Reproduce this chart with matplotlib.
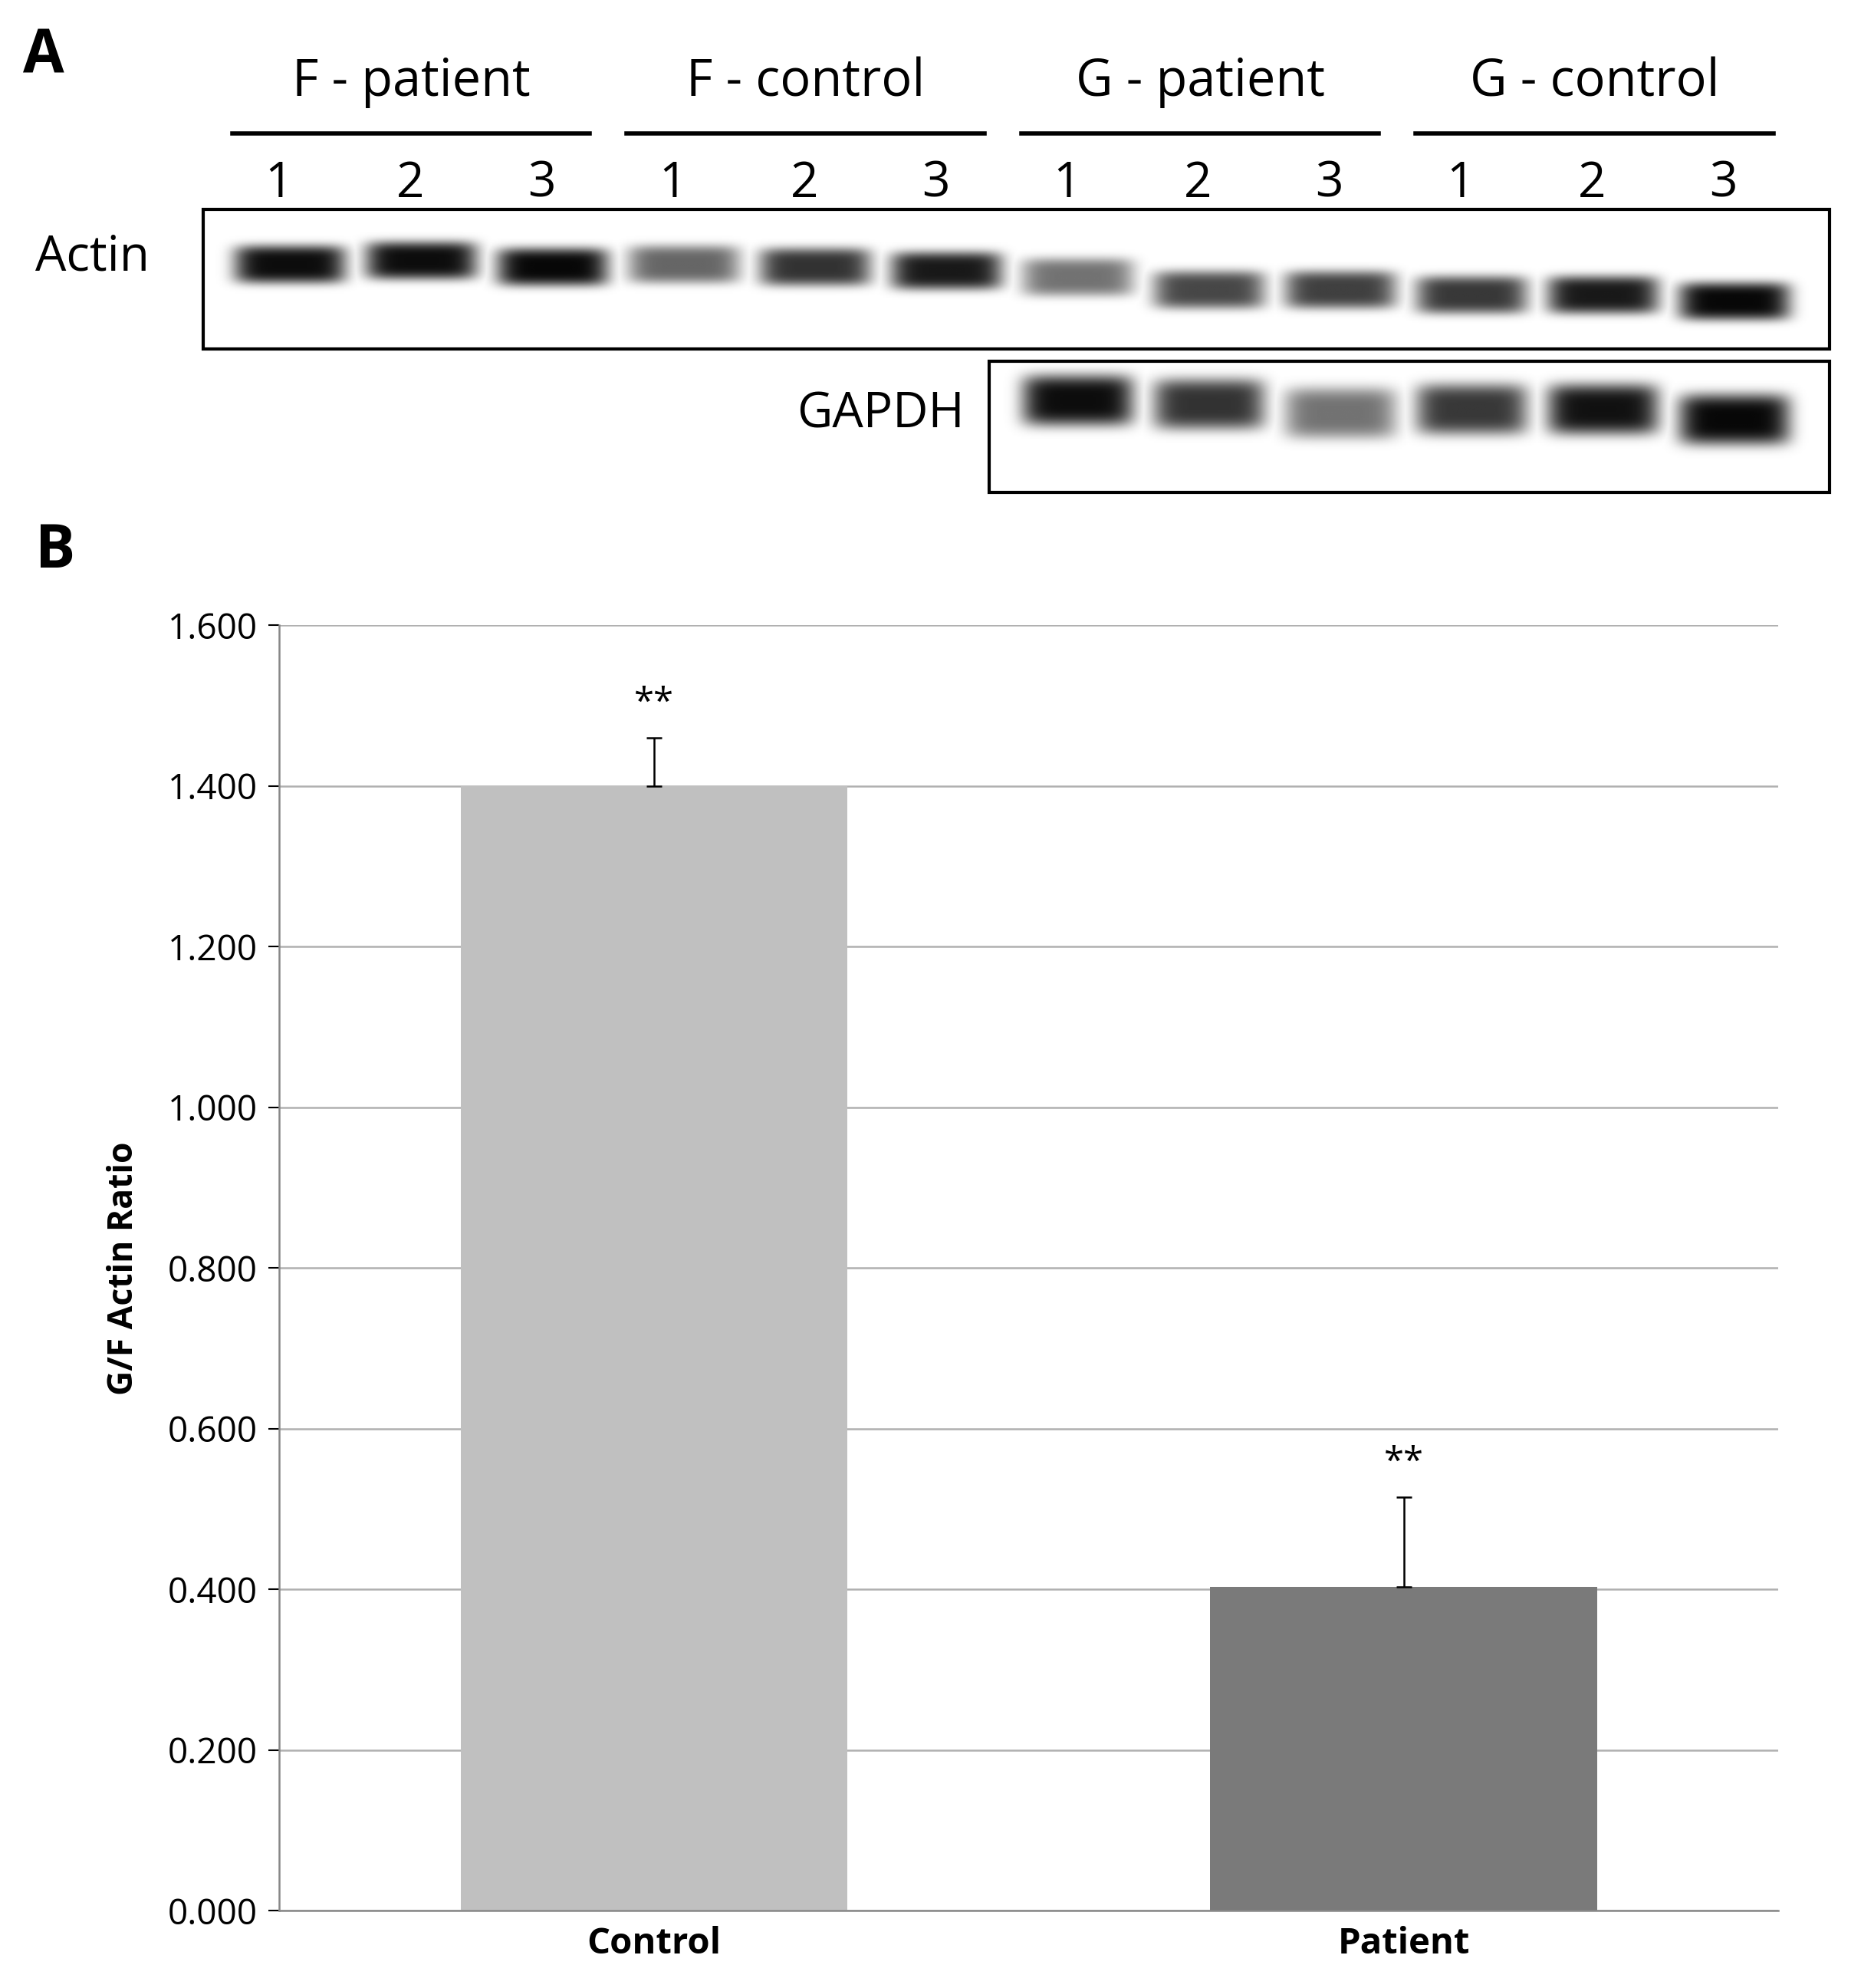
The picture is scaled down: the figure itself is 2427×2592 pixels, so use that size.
import numpy as np
import matplotlib.pyplot as plt
from matplotlib.patches import Rectangle

plt.rcParams['font.family'] = ['Open Sans', 'DejaVu Sans']

# panel B data
categories = ["Control", "Patient"]
ratios = [1.400, 0.403]
errors = [0.060, 0.112]
bar_colors = ["#c0c0c0", "#7a7a7a"]
yticks = [0.0, 0.2, 0.4, 0.6, 0.8, 1.0, 1.2, 1.4, 1.6]

# panel A: blot band intensities (0..1) per lane
groups = ["F - patient", "F - control", "G - patient", "G - control"]
lanes = ["1", "2", "3"] * 4
actin = [0.95, 0.95, 0.97, 0.6, 0.8, 0.9, 0.55, 0.72, 0.75, 0.78, 0.9, 0.97]
actin_y = [208, 205, 210, 208, 210, 213, 218, 228, 228, 232, 232, 237]
gapdh = [0.95, 0.8, 0.55, 0.78, 0.93, 0.97]
gapdh_y = [315, 318, 325, 322, 322, 330]

W, H = 1467.0, 1567.0  # reference layout units
fig = plt.figure(figsize=(24.27, 25.92), dpi=100)


def fx(x):
    return x / W


def fy(y):
    return 1 - y / H


# ---- blot image
x0, x1, y0, y1 = 160, 1442, 155, 400
xs = np.arange(x0, x1)
ys = np.arange(y0, y1)
X, Y = np.meshgrid(xs, ys)
img = np.zeros_like(X, dtype=float)
lane_x = [228 + 103.5 * i for i in range(12)]


def blob(cx, cy, amp, w=44, h=15):
    b = np.exp(-((np.abs(X - cx) / w) ** 6) - ((np.abs(Y - cy) / h) ** 4))
    return amp * b


for i, a in enumerate(actin):
    img = np.maximum(img, blob(lane_x[i], actin_y[i], a))
for j, a in enumerate(gapdh):
    img = np.maximum(img, blob(lane_x[6 + j], gapdh_y[j], a, h=20))

bax = fig.add_axes([fx(x0), fy(y1), fx(x1 - x0), (y1 - y0) / H])
bax.imshow(img, cmap="gray_r", vmin=0, vmax=1, aspect="auto",
           extent=[x0, x1, y1, y0], interpolation="bilinear")
bax.set_axis_off()

for (rx0, ry0, rx1, ry1) in [(160, 165, 1442, 275), (780, 285, 1442, 388)]:
    fig.patches.append(Rectangle((fx(rx0), fy(ry1)), fx(rx1 - rx0), (ry1 - ry0) / H,
                                 transform=fig.transFigure, fill=False,
                                 edgecolor="black", linewidth=3))

fig.text(fx(18), fy(45), "A", fontsize=56, fontweight="bold", va="center")
fig.text(fx(28), fy(203), "Actin", fontsize=46, va="center")
fig.text(fx(760), fy(327), "GAPDH", fontsize=46, va="center", ha="right")

for g, name in enumerate(groups):
    left = 183 + g * 311
    right = left + 282
    fig.text(fx((left + right) / 2), fy(65), name, fontsize=48, ha="center", va="center")
    fig.lines.append(plt.Line2D([fx(left), fx(right)], [fy(105), fy(105)],
                                transform=fig.transFigure, color="black", lw=4))
for i, lab in enumerate(lanes):
    fig.text(fx(lane_x[i] - 8), fy(145), lab, fontsize=46, ha="center", va="center")

# ---- panel B
fig.text(fx(28), fy(435), "B", fontsize=56, fontweight="bold", va="center")
ax = fig.add_axes([fx(220), fy(1506), fx(1402 - 220), (1506 - 493) / H])
pos = np.arange(len(categories))
ax.bar(pos, ratios, width=0.516, color=bar_colors, zorder=2)
ax.errorbar(pos, ratios, yerr=[[0, 0], errors], fmt="none", ecolor="black",
            elinewidth=1.8, capsize=7, capthick=1.8, zorder=3)
for p, r, e in zip(pos, ratios, errors):
    ax.text(p, r + e + 0.02, "**", ha="center", va="bottom", fontsize=34)
ax.set_xlim(-0.5, 1.5)
ax.set_ylim(0, 1.6)
ax.set_yticks(yticks)
ax.set_yticklabels([f"{t:.3f}" for t in yticks], fontsize=33)
ax.set_xticks(pos)
ax.set_xticklabels(categories, fontsize=34, fontweight="bold")
ax.tick_params(axis="x", length=0, pad=14)
ax.tick_params(axis="y", length=10, width=1.5, direction="out", pad=10)
ax.yaxis.grid(True, color="#b0b0b0", linewidth=1.8, zorder=0)
for s in ["top", "right"]:
    ax.spines[s].set_visible(False)
ax.spines["left"].set_color("#888888")
ax.spines["bottom"].set_color("#888888")
ax.spines["left"].set_linewidth(1.8)
ax.spines["bottom"].set_linewidth(1.8)
ax.set_ylabel("G/F Actin Ratio", fontsize=32, fontweight="bold", labelpad=25)

fig.savefig("out.png", dpi=100)
